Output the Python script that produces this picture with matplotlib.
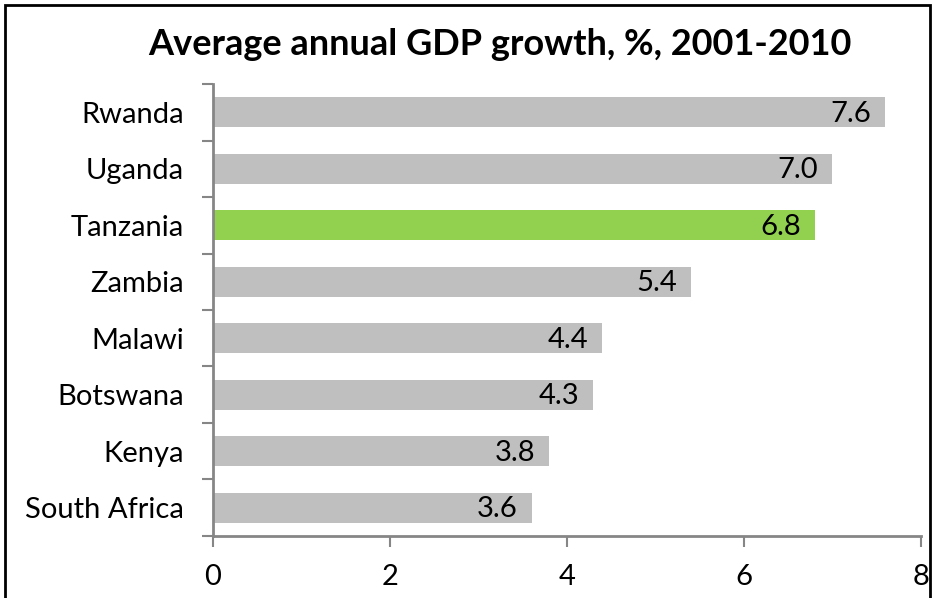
import numpy as np
import matplotlib.pyplot as plt
from matplotlib.patches import Rectangle

countries = ["Rwanda", "Uganda", "Tanzania", "Zambia", "Malawi",
             "Botswana", "Kenya", "South Africa"]
growth = [7.6, 7.0, 6.8, 5.4, 4.4, 4.3, 3.8, 3.6]
highlight = "Tanzania"

plt.rcParams["font.family"] = ["Lato", "DejaVu Sans"]

fig = plt.figure(figsize=(9.33, 5.98), dpi=100)
ax = fig.add_axes([0.2283, 0.1037, 0.987 - 0.2283, 0.8595 - 0.1037])

y = np.arange(len(countries))
colors = ["#92D050" if c == highlight else "#BFBFBF" for c in countries]
ax.barh(y, growth, height=0.53, color=colors, zorder=2)

for yi, v in zip(y, growth):
    ax.annotate(f"{v:.1f}", (v, yi), xytext=(-10, -1), textcoords="offset points",
                ha="right", va="center", fontsize=21, color="black", zorder=3)

ax.set_ylim(len(countries) - 0.5, -0.5)
ax.set_xlim(0, 8)
ax.set_yticks(y)
ax.set_yticklabels(countries, fontsize=21)
ax.set_yticks(np.arange(len(countries) + 1) - 0.5, minor=True)
ax.tick_params(axis="y", which="major", length=0, pad=21)
ax.tick_params(axis="y", which="minor", length=8, width=1.5, color="#868686", direction="out")
ax.set_xticks([0, 2, 4, 6, 8])
ax.tick_params(axis="x", length=8, width=1.5, color="#868686", labelsize=21, pad=12)

for side in ["top", "right"]:
    ax.spines[side].set_visible(False)
for side in ["left", "bottom"]:
    ax.spines[side].set_color("#868686")
    ax.spines[side].set_linewidth(2)

fig.text(0.536, 0.925, "Average annual GDP growth, %, 2001-2010",
         ha="center", va="center", fontsize=26, fontweight="bold")

fig.add_artist(Rectangle((5 / 933, -0.1), 925 / 933, 1.1 - 5 / 598,
                         transform=fig.transFigure, fill=False,
                         edgecolor="black", linewidth=2))

fig.savefig("out.png", dpi=100)
